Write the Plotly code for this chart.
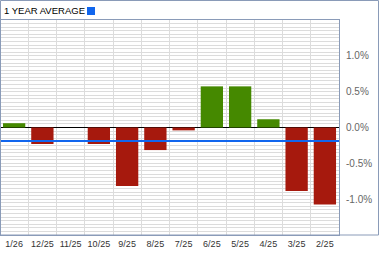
import plotly.graph_objects as go

months = ["1/26", "12/25", "11/25", "10/25", "9/25", "8/25", "7/25", "6/25", "5/25", "4/25", "3/25", "2/25"]
changes = [0.06, -0.23, 0.0, -0.23, -0.815, -0.315, -0.04, 0.574, 0.574, 0.115, -0.885, -1.075]
year_average = -0.19
y_ticks = [-1.0, -0.5, 0.0, 0.5, 1.0]
title_text = "1 YEAR AVERAGE"

W, H = 379, 255
L, R, T, B = 0, 40, 20, 20
pw, ph = W - L - R, H - T - B

def px_x(p):
    return (p - L) / pw

def px_y(p):
    return (H - B - p) / ph

green = "#458900"
red = "#A6190D"
blue = "#1166EE"
frame = "#8A9BB8"

colors = [green if v > 0 else red for v in changes]

fig = go.Figure()
fig.add_trace(go.Bar(x=months, y=changes, marker=dict(color=colors, line=dict(width=0)),
                     hoverinfo="skip"))

fig.update_layout(
    width=W, height=H,
    margin=dict(l=L, r=R, t=T, b=B, pad=0, autoexpand=False),
    paper_bgcolor="white", plot_bgcolor="white",
    showlegend=False, bargap=0.21,
    font=dict(family="Liberation Sans, Arial, sans-serif", size=10, color="#333333"),
)
fig.update_xaxes(
    type="category", categoryorder="array", categoryarray=months,
    tickson="boundaries", showgrid=True, gridcolor="#dcdcdc", gridwidth=1,
    showline=True, linecolor=frame, linewidth=1, mirror=True,
    ticks="", tickangle=0, automargin=False,
    tickfont=dict(size=9, color="#333333"), fixedrange=True,
)
fig.update_yaxes(
    side="right", range=[-1.5, 1.5], tickvals=y_ticks,
    ticktext=[f"{v:.1f}%" for v in y_ticks], automargin=False,
    showgrid=True, gridcolor="#dcdcdc", gridwidth=1,
    minor=dict(dtick=0.05, showgrid=True, gridcolor="#dcdcdc", gridwidth=1),
    zeroline=True, zerolinecolor="#000000", zerolinewidth=1,
    showline=True, linecolor=frame, linewidth=1, mirror=True,
    ticks="outside", ticklen=4, tickcolor="rgba(0,0,0,0)",
    tickfont=dict(size=10, color="#666666"), fixedrange=True,
)

# average line
fig.add_shape(type="line", xref="paper", yref="y", x0=0, x1=1, y0=year_average, y1=year_average,
              line=dict(color=blue, width=2), layer="above")

# outer frame
fig.add_shape(type="rect", xref="paper", yref="paper",
              x0=px_x(0.5), x1=px_x(378.5), y0=px_y(235), y1=px_y(0.5),
              line=dict(color=frame, width=1), layer="above")

# header text and legend square
fig.add_annotation(xref="paper", yref="paper", x=px_x(2), y=px_y(10.5), xanchor="left", yanchor="middle",
                   text=title_text, showarrow=False,
                   font=dict(size=9.5, color="#000000"))
fig.add_shape(type="rect", xref="paper", yref="paper",
              x0=px_x(87), x1=px_x(95), y0=px_y(15), y1=px_y(7),
              line=dict(width=0), fillcolor=blue)

fig.write_html("out.html", config=dict(displayModeBar=False))
